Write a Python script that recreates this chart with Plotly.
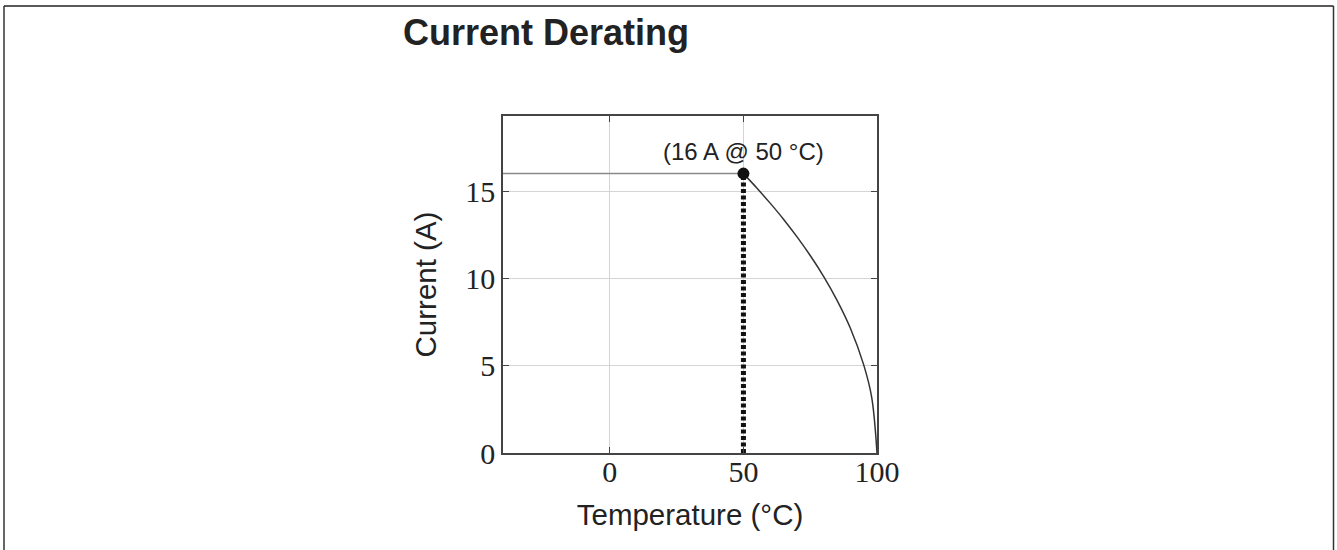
import plotly.graph_objects as go

# Data
temperature = [50, 55, 60, 65, 70, 75, 80, 85, 90, 95, 98, 100]
current = [16, 15.18, 14.31, 13.39, 12.39, 11.31, 10.12, 8.76, 7.16, 5.06, 3.2, 0]
point_t = [50]
point_i = [16]
ref_line_t = [-40, 50]
ref_line_i = [16, 16]
drop_t = [50, 50]
drop_i = [0, 16]
x_ticks = [0, 50, 100]
y_ticks = [0, 5, 10, 15]

fig = go.Figure()

fig.add_trace(go.Scatter(x=ref_line_t, y=ref_line_i, mode="lines",
                         line=dict(color="#8a8a8a", width=1.5), showlegend=False,
                         hoverinfo="skip"))
fig.add_trace(go.Scatter(x=drop_t, y=drop_i, mode="lines",
                         line=dict(color="#111111", width=5, dash="4px,2.5px"),
                         showlegend=False))
fig.add_trace(go.Scatter(x=temperature, y=current, mode="lines",
                         line=dict(color="#333333", width=1.5, shape="spline"),
                         showlegend=False))
fig.add_trace(go.Scatter(x=point_t, y=point_i, mode="markers",
                         marker=dict(color="#111111", size=12), showlegend=False))

fig.add_annotation(x=50, y=16, text="(16 A @ 50 °C)", showarrow=False,
                   yanchor="bottom", yshift=7,
                   font=dict(family="Liberation Sans, Arial, sans-serif", size=24, color="#222222"))

# outer frame of the page box
L = 503
T = 116
W = 374
H = 337
fx0 = (4 - L) / W
fx1 = (1333.5 - L) / W
fy1 = (T + H - 6) / H
fig.add_shape(type="line", xref="paper", yref="paper",
              x0=fx0, x1=fx0, y0=-0.4, y1=fy1,
              line=dict(color="#333333", width=1.5))
fig.add_shape(type="line", xref="paper", yref="paper",
              x0=fx1, x1=fx1, y0=-0.4, y1=fy1,
              line=dict(color="#333333", width=1.5))
fig.add_shape(type="line", xref="paper", yref="paper",
              x0=fx0, x1=fx1, y0=fy1, y1=fy1,
              line=dict(color="#222222", width=1.5))

tick_font = dict(family="Liberation Serif, 'DejaVu Serif', serif", size=30, color="#222222")
title_font = dict(family="Liberation Sans, Arial, sans-serif", size=29.5, color="#222222")

fig.update_layout(
    width=1337, height=550,
    paper_bgcolor="white", plot_bgcolor="white",
    margin=dict(l=L, r=1337 - L - W, t=T, b=550 - T - H),
    title=dict(text="<b>Current Derating</b>", x=403 / 1337, xanchor="left",
               y=1 - 20 / 550, yanchor="top", yref="container",
               font=dict(family="Liberation Sans, Arial, sans-serif", size=36, color="#222222")),
    xaxis=dict(range=[-40, 100], tickvals=x_ticks, ticktext=[str(v) for v in x_ticks],
               showgrid=True, gridcolor="#d4d4d4", gridwidth=1,
               showline=True, linecolor="#444444", linewidth=1.5, mirror="all",
               ticks="inside", ticklen=6, tickcolor="#444444",
               zeroline=False, tickfont=tick_font, ticklabelstandoff=-9,
               title=dict(text="Temperature (°C)", font=title_font, standoff=18)),
    yaxis=dict(range=[0, 19.3], tickvals=y_ticks, ticktext=[str(v) for v in y_ticks],
               showgrid=True, gridcolor="#d4d4d4", gridwidth=1,
               showline=True, linecolor="#444444", linewidth=1.5, mirror="all",
               ticks="inside", ticklen=6, tickcolor="#444444",
               zeroline=False, tickfont=tick_font,
               title=dict(text="Current (A)", font=title_font, standoff=20)),
)

fig.write_html("out.html", config={"displayModeBar": False},
               post_script="document.body.style.margin='0';")
